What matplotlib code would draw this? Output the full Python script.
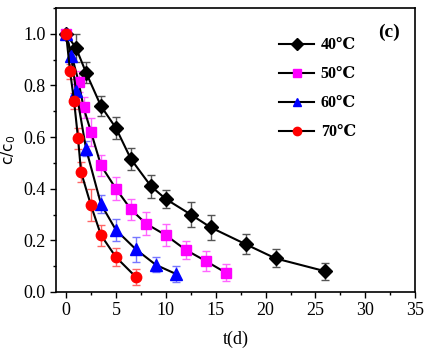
import matplotlib
matplotlib.use("Agg")
import matplotlib.pyplot as plt
from matplotlib.ticker import MultipleLocator

serif = ['Liberation Serif', 'DejaVu Serif']

labels = ['40℃', '50℃', '60℃', '70℃']

t40 = [0, 1, 2, 3.5, 5, 6.5, 8.5, 10, 12.5, 14.5, 18, 21, 26]
c40 = [1.0, 0.945, 0.85, 0.72, 0.635, 0.515, 0.41, 0.36, 0.30, 0.25, 0.185, 0.13, 0.08]
e40 = [0.0, 0.055, 0.04, 0.039, 0.043, 0.043, 0.045, 0.036, 0.05, 0.047, 0.039, 0.035, 0.034]

t50 = [0, 1.25, 1.75, 2.5, 3.5, 5, 6.5, 8, 10, 12, 14, 16]
c50 = [1.0, 0.815, 0.715, 0.62, 0.49, 0.40, 0.32, 0.265, 0.22, 0.163, 0.12, 0.075]
e50 = [0.0, 0.04, 0.04, 0.053, 0.039, 0.045, 0.041, 0.043, 0.043, 0.035, 0.038, 0.032]

t60 = [0, 0.5, 1, 2, 3.5, 5, 7, 9, 11]
c60 = [1.0, 0.915, 0.78, 0.555, 0.34, 0.24, 0.165, 0.105, 0.07]
e60 = [0.0, 0.02, 0.025, 0.03, 0.036, 0.044, 0.049, 0.029, 0.032]

t70 = [0, 0.4, 0.8, 1.2, 1.5, 2.5, 3.5, 5, 7]
c70 = [1.0, 0.855, 0.74, 0.595, 0.465, 0.335, 0.22, 0.135, 0.058]
e70 = [0.0, 0.03, 0.03, 0.04, 0.04, 0.062, 0.041, 0.036, 0.03]

series = [
    (t40, c40, e40, 'D', 'black', '#555555', 7.5),
    (t50, c50, e50, 's', '#FF00FF', '#FF66FF', 7),
    (t60, c60, e60, '^', '#0000FF', '#7777FF', 8),
    (t70, c70, e70, 'o', '#FF0000', '#FF6666', 7.5),
]

fig = plt.figure(figsize=(4.25, 3.48), dpi=100)
ax = fig.add_axes([0.132, 0.161, 0.845, 0.816])

handles = []
for (t, c, e, m, col, ecol, ms), lab in zip(series, labels):
    ax.errorbar(t, c, yerr=e, fmt='none', ecolor=ecol, elinewidth=1.0,
                capsize=3, capthick=1.0, zorder=2)
    h, = ax.plot(t, c, '-', color='black', lw=1.5, marker=m, ms=ms,
                 mfc=col, mec=col, label=lab, zorder=3)
    handles.append(h)

ax.set_xlim(-1, 35)
ax.set_ylim(0, 1.1)
ax.xaxis.set_major_locator(MultipleLocator(5))
ax.xaxis.set_minor_locator(MultipleLocator(2.5))
ax.yaxis.set_major_locator(MultipleLocator(0.2))
ax.yaxis.set_minor_locator(MultipleLocator(0.1))
ax.tick_params(which='both', direction='out', top=False, right=False)
ax.tick_params(which='major', length=4, width=1, labelsize=13)
ax.tick_params(which='minor', length=2.5, width=1)
for lbl in ax.get_xticklabels() + ax.get_yticklabels():
    lbl.set_family(serif)
for s in ax.spines.values():
    s.set_linewidth(1.2)

ax.set_xlabel('t(d)', family=serif, fontsize=13, labelpad=8)
ax.set_ylabel('c/c$_0$', family=['DejaVu Sans'], fontsize=11, labelpad=4)

leg = ax.legend(handles=handles, loc='upper left', bbox_to_anchor=(0.581, 0.948),
                frameon=False, handlelength=2.2, labelspacing=0.82,
                prop={'family': serif, 'weight': 'bold', 'size': 11.5},
                handletextpad=0.4)
for h in leg.legend_handles:
    h.set_markersize(6)

ax.text(0.927, 0.915, '(c)', transform=ax.transAxes, family=serif,
        fontsize=14, fontweight='bold', ha='center', va='center')

fig.savefig('out.png', dpi=100)
